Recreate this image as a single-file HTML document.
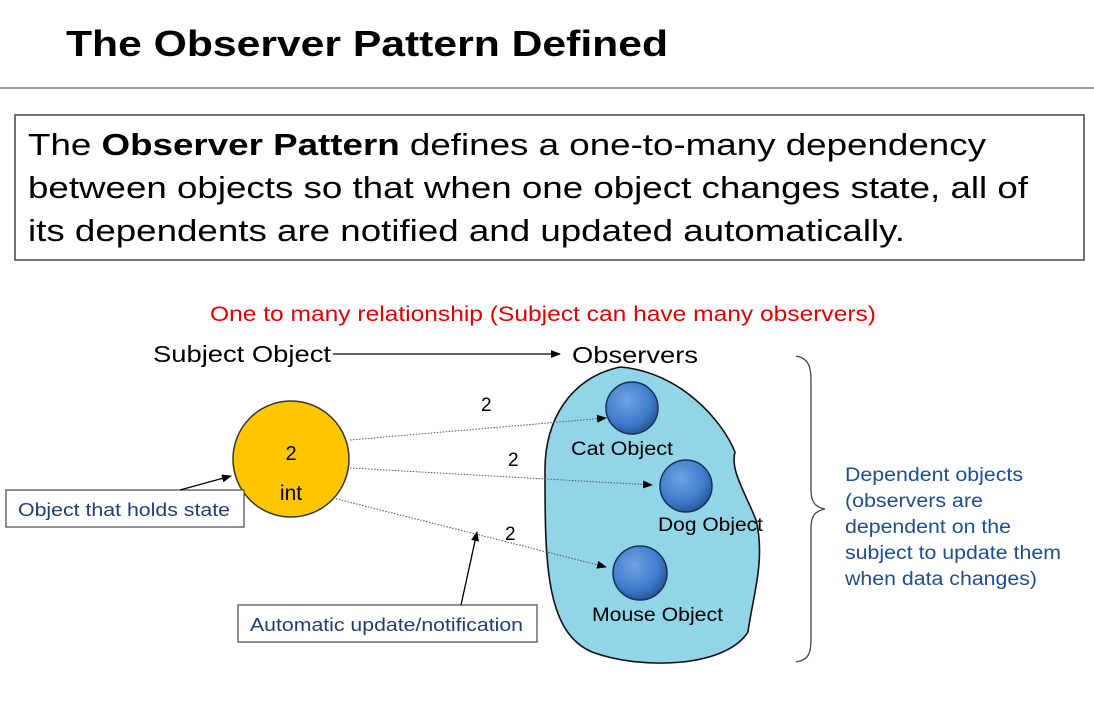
<!DOCTYPE html>
<html><head><meta charset="utf-8"><style>
html,body{margin:0;padding:0;background:#fff;width:1094px;height:702px;overflow:hidden}
svg{display:block}
text{font-family:"Liberation Sans",Arial,sans-serif}
</style></head><body>
<svg width="1094" height="702" viewBox="0 0 1094 702" xmlns="http://www.w3.org/2000/svg">
<defs>
<marker id="ah" markerWidth="10" markerHeight="8" refX="9" refY="4" orient="auto" markerUnits="userSpaceOnUse">
<path d="M0,0 L10,4 L0,8 Z" fill="#000"/></marker>
<radialGradient id="bg" cx="40%" cy="35%" r="65%">
<stop offset="0" stop-color="#6fa3e0"/><stop offset="0.7" stop-color="#3f7ccc"/><stop offset="1" stop-color="#2a5a9e"/></radialGradient>
</defs>
<text x="66" y="56" font-size="36" font-weight="bold" textLength="602" lengthAdjust="spacingAndGlyphs">The Observer Pattern Defined</text>
<line x1="0" y1="88" x2="1094" y2="88" stroke="#999" stroke-width="2"/>
<rect x="15" y="115" width="1069" height="145" fill="#fff" stroke="#444" stroke-width="1.5"/>
<text x="28" y="155" font-size="31" textLength="958" lengthAdjust="spacingAndGlyphs">The <tspan font-weight="bold">Observer Pattern</tspan> defines a one-to-many dependency</text>
<text x="28" y="198" font-size="31" textLength="1000" lengthAdjust="spacingAndGlyphs">between objects so that when one object changes state, all of</text>
<text x="28" y="241" font-size="31" textLength="877" lengthAdjust="spacingAndGlyphs">its dependents are notified and updated automatically.</text>
<text x="210" y="321" font-size="21" fill="#e00000" textLength="666" lengthAdjust="spacingAndGlyphs">One to many relationship (Subject can have many observers)</text>
<text x="153" y="362" font-size="23" textLength="178" lengthAdjust="spacingAndGlyphs">Subject Object</text>
<line x1="333" y1="354" x2="560" y2="354" stroke="#000" stroke-width="1.3" marker-end="url(#ah)"/>
<text x="572" y="363" font-size="23" textLength="126" lengthAdjust="spacingAndGlyphs">Observers</text>
<path d="M620,367 C680,372 722,420 735,452 C730,470 745,492 756,520 C766,560 752,600 748,632 C725,668 640,670 592,652 C545,632 545,560 545,470 C545,420 570,378 620,367 Z" fill="#92d5e8" stroke="#111" stroke-width="1.6"/>
<circle cx="632" cy="408" r="26" fill="url(#bg)" stroke="#1a2f55" stroke-width="1.5"/>
<circle cx="686" cy="486" r="26" fill="url(#bg)" stroke="#1a2f55" stroke-width="1.5"/>
<circle cx="640" cy="573" r="27" fill="url(#bg)" stroke="#1a2f55" stroke-width="1.5"/>
<text x="571" y="455" font-size="19" textLength="102" lengthAdjust="spacingAndGlyphs">Cat Object</text>
<text x="658" y="531" font-size="19" textLength="105" lengthAdjust="spacingAndGlyphs">Dog Object</text>
<text x="592" y="621" font-size="19" textLength="131" lengthAdjust="spacingAndGlyphs">Mouse Object</text>
<circle cx="291" cy="459" r="58" fill="#ffc600" stroke="#333" stroke-width="1.5"/>
<text x="291" y="460" font-size="20" text-anchor="middle">2</text>
<text x="291" y="500" font-size="21" text-anchor="middle">int</text>
<g stroke="#555" stroke-width="1" stroke-dasharray="1.5,1.5" fill="none">
<line x1="350" y1="440" x2="606" y2="418" marker-end="url(#ah)"/>
<line x1="350" y1="468" x2="652" y2="485" marker-end="url(#ah)"/>
<line x1="333" y1="498" x2="606" y2="567" marker-end="url(#ah)"/>
</g>
<text x="481" y="411" font-size="19">2</text>
<text x="508" y="466" font-size="19">2</text>
<text x="505" y="540" font-size="19">2</text>
<rect x="6" y="490" width="238" height="37" fill="#fff" stroke="#555" stroke-width="1.3"/>
<text x="18" y="516" font-size="18" fill="#1f3f70" textLength="212" lengthAdjust="spacingAndGlyphs">Object that holds state</text>
<line x1="180" y1="490" x2="231" y2="476" stroke="#000" stroke-width="1.3" marker-end="url(#ah)"/>
<rect x="238" y="605" width="299" height="37" fill="#fff" stroke="#555" stroke-width="1.3"/>
<text x="250" y="631" font-size="18" fill="#1f3f70" textLength="273" lengthAdjust="spacingAndGlyphs">Automatic update/notification</text>
<line x1="461" y1="605" x2="477" y2="532" stroke="#000" stroke-width="1.3" marker-end="url(#ah)"/>
<path d="M796,356 C808,358 811,366 811,380 L811,490 C811,502 815,507 825,509 C815,511 811,516 811,528 L811,640 C811,654 808,660 796,662" fill="none" stroke="#444" stroke-width="1.3"/>
<g font-size="19" fill="#1f4e8c">
<text x="845" y="481" textLength="178" lengthAdjust="spacingAndGlyphs">Dependent objects</text>
<text x="845" y="507" textLength="138" lengthAdjust="spacingAndGlyphs">(observers are</text>
<text x="845" y="533" textLength="166" lengthAdjust="spacingAndGlyphs">dependent on the</text>
<text x="845" y="559" textLength="216" lengthAdjust="spacingAndGlyphs">subject to update them</text>
<text x="845" y="585" textLength="192" lengthAdjust="spacingAndGlyphs">when data changes)</text>
</g>
</svg>
</body></html>
